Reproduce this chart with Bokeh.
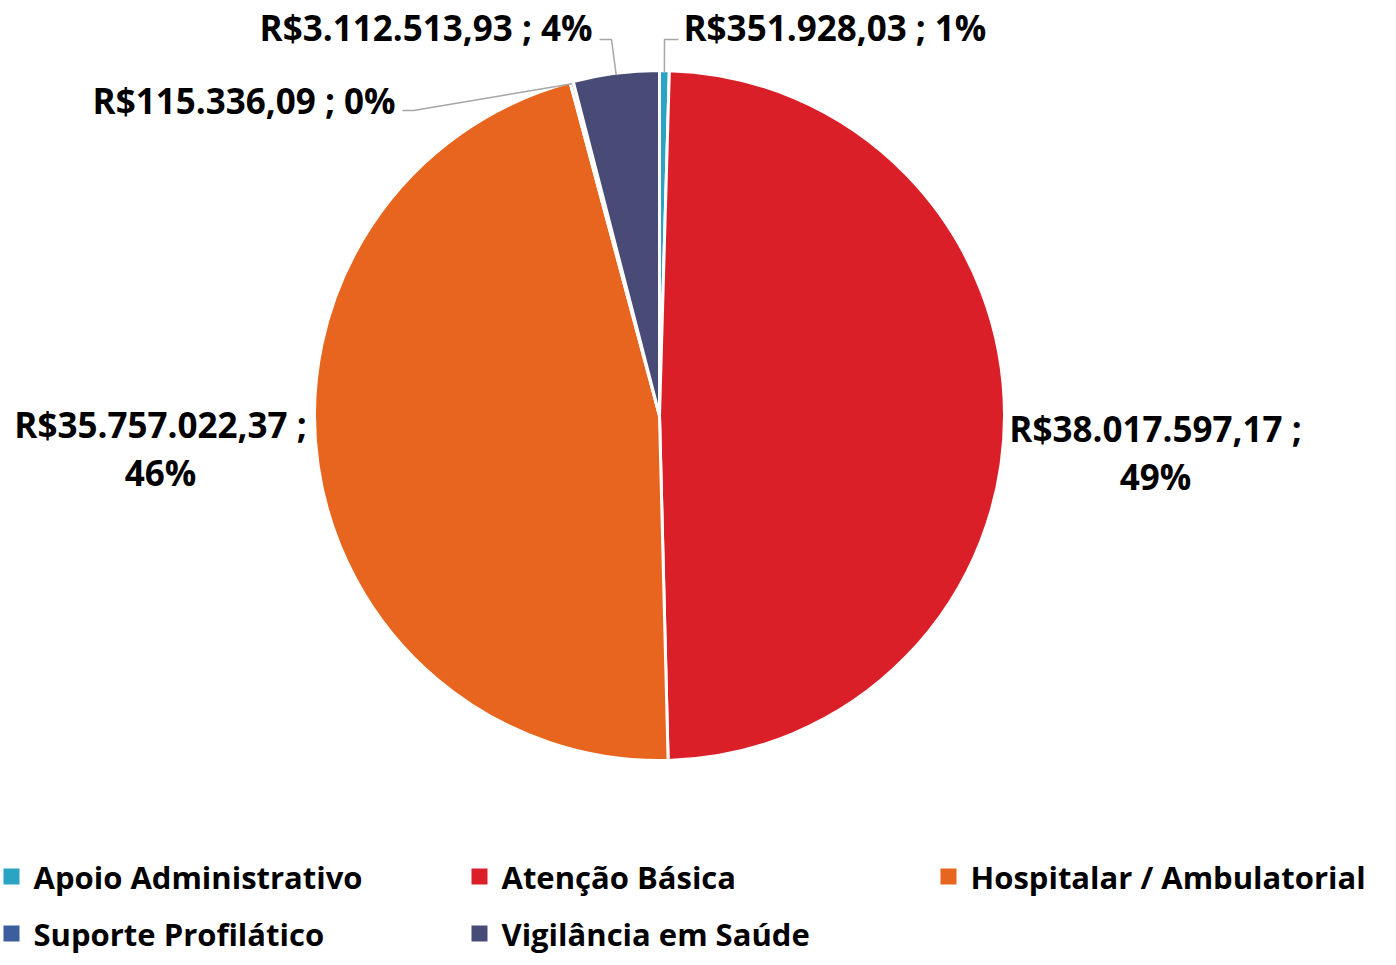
import math
from bokeh.plotting import figure
from bokeh.models import Range1d, ColumnDataSource
from bokeh.core.properties import value
from bokeh.embed import file_html
from bokeh.resources import INLINE

categories = ["Apoio Administrativo", "Atenção Básica", "Hospitalar / Ambulatorial",
              "Suporte Profilático", "Vigilância em Saúde"]
values = [351928.03, 38017597.17, 35757022.37, 115336.09, 3112513.93]
labels = ["R$351.928,03 ; 1%", "R$38.017.597,17 ;\n49%", "R$35.757.022,37 ;\n46%",
          "R$115.336,09 ; 0%", "R$3.112.513,93 ; 4%"]
colors = ["#2BA3C2", "#DA1F29", "#E8651F", "#3C5E9C", "#474B75"]

W, H = 1380, 957
FONT = "Open Sans"
FS = "35px"
LFS = "31px"


def P(x, y):
    # picture pixel -> data coords
    return x, H - y


p = figure(width=W, height=H, output_backend="svg", toolbar_location=None,
           x_range=Range1d(0, W), y_range=Range1d(0, H), min_border=0)
p.axis.visible = False
p.grid.visible = False
p.outline_line_color = None
p.background_fill_color = "white"

cx, cy = P(659, 415)
R = 345
total = sum(values)
starts, ends, mids = [], [], []
acc = 0.0
for v in values:
    a0 = math.pi / 2 - 2 * math.pi * acc / total
    acc += v
    a1 = math.pi / 2 - 2 * math.pi * acc / total
    starts.append(a0)
    ends.append(a1)
    mids.append((a0 + a1) / 2)

src = ColumnDataSource(dict(start=starts, end=ends, color=colors))
p.wedge(x=cx, y=cy, radius=R, start_angle="start", end_angle="end",
        direction="clock", fill_color="color", line_color="white",
        line_width=3, source=src)

# leader lines (for small slices)
leaders = {
    0: [(664, 39), (678, 39)],
    4: [(611, 39), (599, 39)],
    3: [(413, 110), (402, 110)],
}
for i, pts in leaders.items():
    sx = cx + (R - 2) * math.cos(mids[i])
    sy = cy + (R - 2) * math.sin(mids[i])
    xs = [sx] + [P(*q)[0] for q in pts]
    ys = [sy] + [P(*q)[1] for q in pts]
    p.line(xs, ys, line_color="#A6A6A6", line_width=1.5)

# data labels: (x, y, align)
label_pos = [
    (683, 27, "left"),
    (1155, 452, "center"),
    (160, 448, "center"),
    (395, 100, "right"),
    (592, 27, "right"),
]
for lab, (x, y, al) in zip(labels, label_pos):
    lines = lab.split("\n")
    n = len(lines)
    for k, ln in enumerate(lines):
        yy = y + (k - (n - 1) / 2) * 48
        X, Y = P(x, yy)
        p.text(x=[X], y=[Y], text=[ln], text_align=al, text_baseline="middle",
               text_font=value(FONT), text_font_style="bold",
               text_font_size=FS, text_color="black")

# legend
leg_pos = [(11, 876), (479, 876), (948, 876), (11, 933), (479, 933)]
for cat, col, (x, y) in zip(categories, colors, leg_pos):
    X, Y = P(x, y)
    p.scatter(x=[X], y=[Y], marker="square", size=16, fill_color=col, line_color=None)
    p.text(x=[X + 22], y=[Y], text=[cat], text_align="left", text_baseline="middle",
           text_font=value(FONT), text_font_style="bold", text_font_size=LFS,
           text_color="black")

open("out.html", "w").write(file_html(p, INLINE))
